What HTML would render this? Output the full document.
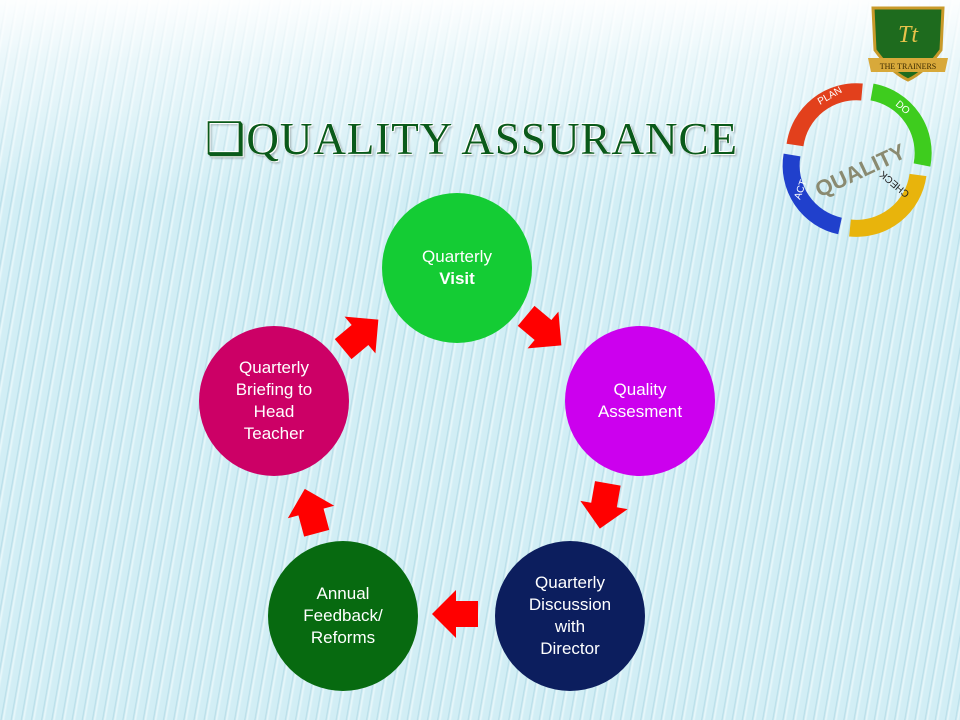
<!DOCTYPE html>
<html><head><style>
html,body{margin:0;padding:0}
body{width:960px;height:720px;position:relative;overflow:hidden;font-family:"Liberation Sans",sans-serif;
background:
linear-gradient(180deg,rgba(255,255,255,0.95) 0px,rgba(255,255,255,0.55) 60px,rgba(255,255,255,0) 200px),
repeating-linear-gradient(100deg,#d2eef5 0px,#d2eef5 5px,#b6dde8 6px,#eaf8fb 8px,#d2eef5 10px),#d2eef5;}
.t{position:absolute;left:205px;top:112px;font-family:"Liberation Serif",serif;font-size:45px;color:#0a5a1a;letter-spacing:1px;
text-shadow:1px 1px 0 #fff,-1px -1px 0 #fff,2px 2px 2px rgba(0,0,0,0.3);white-space:nowrap}
.c{position:absolute;width:150px;height:150px;border-radius:50%;display:flex;align-items:center;justify-content:center;text-align:center;color:#fff;font-size:17px;line-height:22px}
</style></head><body>
<div class="t">❑QUALITY ASSURANCE</div>
<div class="c" style="left:382px;top:193px;background:#14cc34;align-items:flex-start"><div style="margin-top:53px">Quarterly<br><b>Visit</b></div></div>
<div class="c" style="left:565px;top:326px;background:#cc00ee">Quality<br>Assesment</div>
<div class="c" style="left:495px;top:541px;background:#0c1e5e">Quarterly<br>Discussion<br>with<br>Director</div>
<div class="c" style="left:268px;top:541px;background:#076a10">Annual<br>Feedback/<br>Reforms</div>
<div class="c" style="left:199px;top:326px;background:#cc0066">Quarterly<br>Briefing to<br>Head<br>Teacher</div>
<svg width="960" height="720" style="position:absolute;left:0;top:0">
<defs><polygon id="a" points="-22,-13 0,-13 0,-24 24,0 0,24 0,13 -22,13" fill="#ff0000"/></defs>
<use href="#a" transform="translate(360,335) rotate(-40)"/>
<use href="#a" transform="translate(543,330) rotate(40)"/>
<use href="#a" transform="translate(604,505) rotate(100)"/>
<use href="#a" transform="translate(456,614) rotate(180)"/>
<use href="#a" transform="translate(311,512) rotate(-105)"/>
<path d="M873,8 L943,8 L941,50 Q925,72 908,80 Q891,72 875,50 Z" fill="#1e6b1e" stroke="#c99a2a" stroke-width="3"/>
<text x="908" y="42" font-family="Liberation Serif" font-size="24" font-style="italic" fill="#e7c24a" text-anchor="middle">Tt</text>
<path d="M868,58 L948,58 L945,72 L871,72 Z" fill="#d8a93a"/>
<text x="908" y="69" font-family="Liberation Serif" font-size="8" fill="#3a2a00" text-anchor="middle">THE TRAINERS</text>
<g fill="none" stroke-width="17">
<path d="M795,145 A62,62 0 0 1 862,92" stroke="#e2401c"/>
<path d="M872,92 A62,62 0 0 1 922,165" stroke="#3ecc1e"/>
<path d="M918,175 A62,62 0 0 1 850,228" stroke="#e8b40c"/>
<path d="M840,226 A62,62 0 0 1 792,155" stroke="#2040cc"/>
</g>
<text x="860" y="178" font-size="22" font-weight="bold" fill="#8a8a70" text-anchor="middle" transform="rotate(-25 860 170)">QUALITY</text>
<text x="820" y="105" font-size="10" fill="#fff" transform="rotate(-30 820 105)">PLAN</text>
<text x="895" y="105" font-size="10" fill="#fff" transform="rotate(40 895 105)">DO</text>
<text x="888" y="215" font-size="10" fill="#222" transform="rotate(220 895 200)">CHECK</text>
<text x="800" y="200" font-size="10" fill="#fff" transform="rotate(-70 800 200)">ACT</text>
</svg>
</body></html>
